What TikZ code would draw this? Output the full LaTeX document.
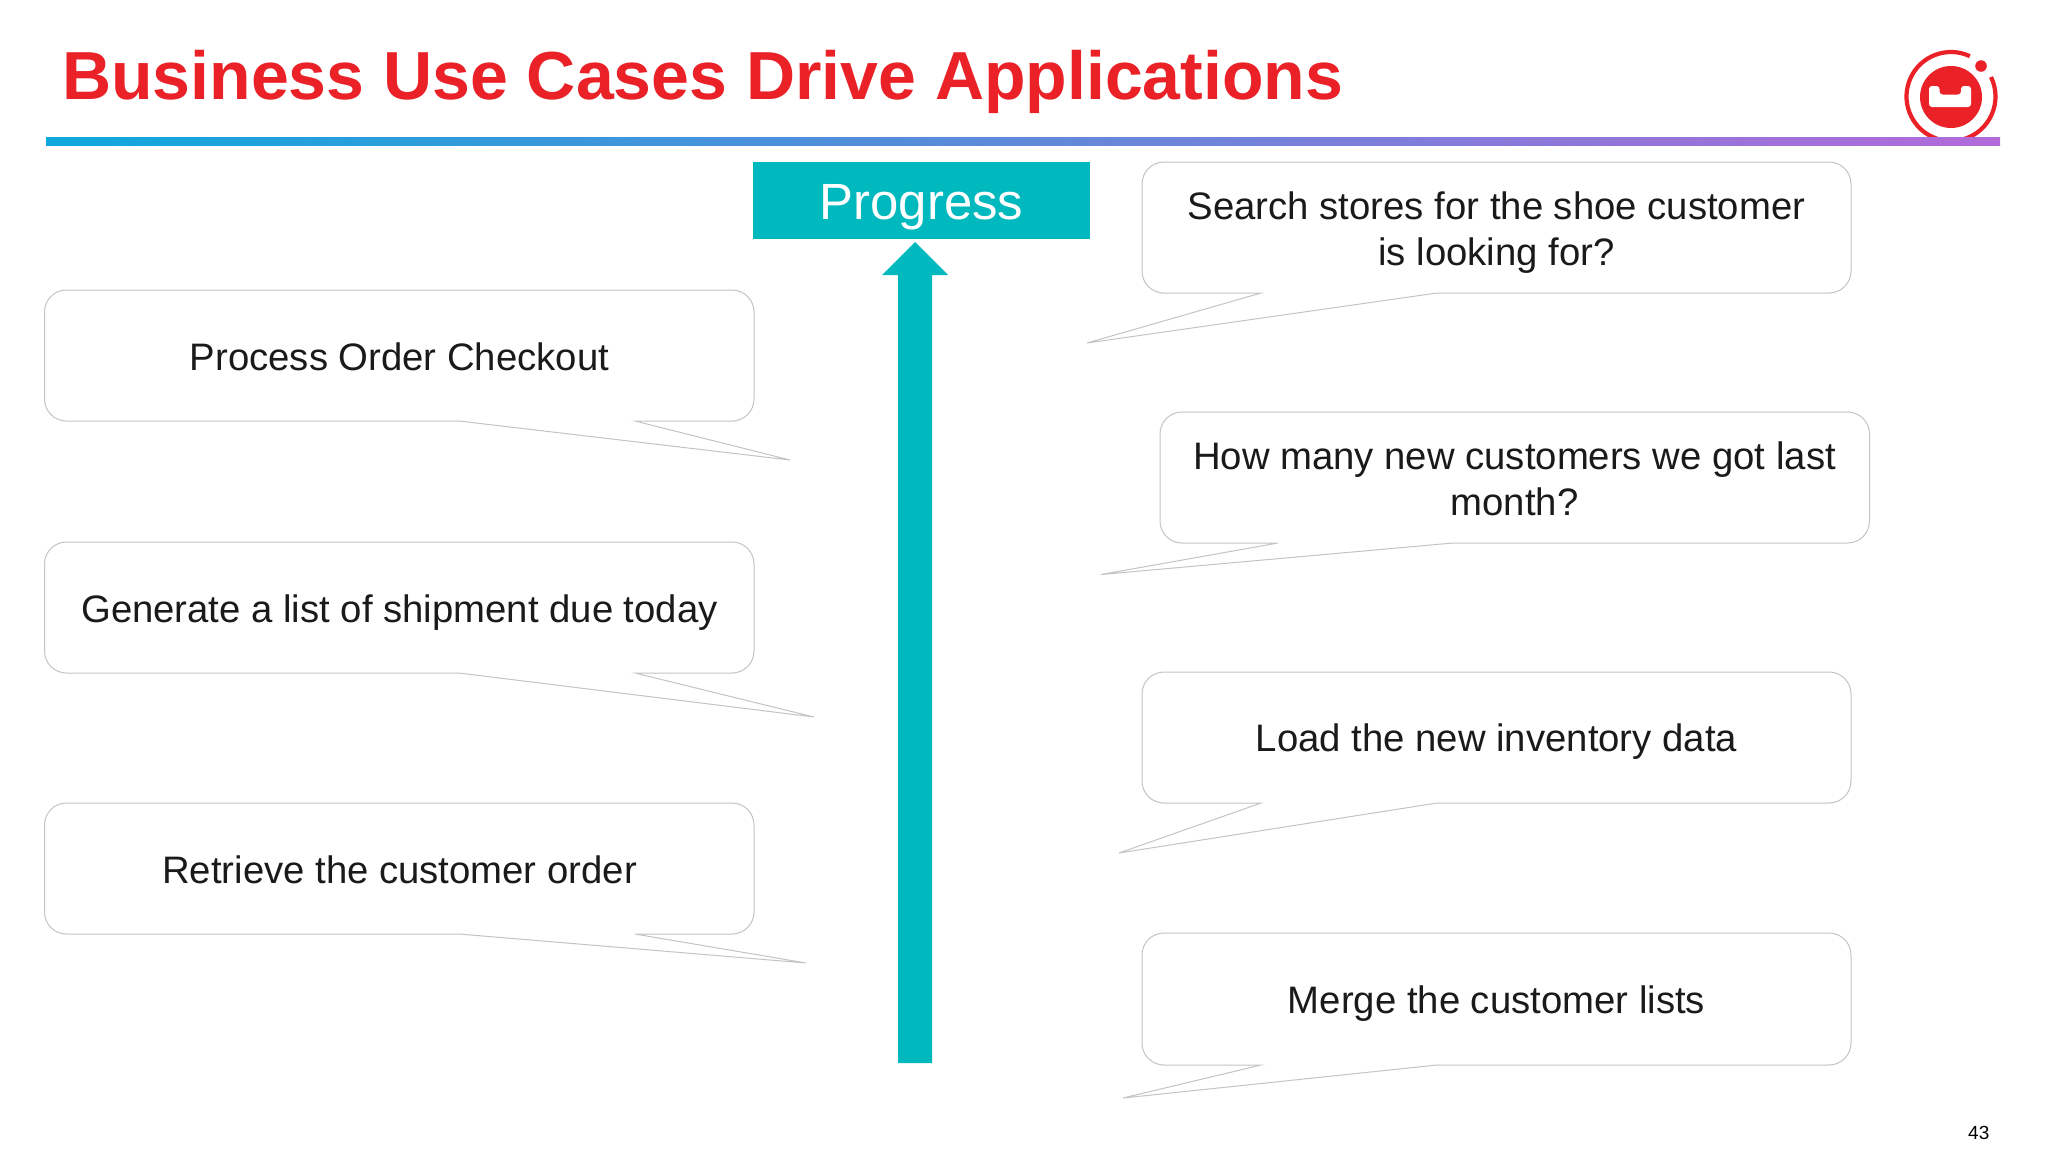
\documentclass[tikz,border=0pt]{standalone}
\usepackage{fontspec}
\setmainfont{Liberation Sans}
\definecolor{titlered}{HTML}{EA2127}
\definecolor{teal}{HTML}{00B9BF}
\definecolor{bubble}{HTML}{C4C4C6}
\definecolor{bodytext}{HTML}{1A1A1A}
\definecolor{barblue}{HTML}{0EA8DC}
\definecolor{barpurple}{HTML}{B26AD9}
\tikzset{
  bubbleline/.style={draw=bubble,line width=1pt,fill=white},
  bubbletext/.style={text=bodytext,font=\fontsize{38.3}{46}\selectfont,align=center,inner sep=0pt},
}
% name, x1, y1, x2, y2, tail base left, tail base right, tip x, tip y
\newcommand{\bubblebox}[9]{%
  \draw[bubbleline] (#6,#5) [rounded corners=22pt] -- (#2,#5) -- (#2,#3) -- (#4,#3) -- (#4,#5) [sharp corners] -- (#7,#5) -- (#8,#9) -- cycle;
}
\begin{document}
\begin{tikzpicture}[x=1pt,y=-1pt]
\useasboundingbox (0,0) rectangle (2048,1152);
\fill[white] (0,0) rectangle (2048,1152);
% logo
\fill[titlered] (1951,97) circle (31);
\begin{scope}[y=1pt,shift={(1951pt,-96.5pt)}]
  \draw[titlered,line width=4.2pt] (65:44.5) arc (65:386:44.5);
\end{scope}
\fill[titlered] (1981,66) circle (5.8);
\fill[white,rounded corners=3pt] (1929,86) -- (1939.5,86) -- (1939.5,94.5) -- (1961,94.5) -- (1961,86) -- (1971,86) -- (1971,107) -- (1929,107) -- cycle;
% title rule
\shade[left color=barblue,right color=barpurple] (46,137.3) rectangle (2000,145);
\node[anchor=base west,inner sep=0pt,text=titlered,font=\fontsize{68}{80}\selectfont\bfseries] (title) at (62,99.5) {Business Use Cases Drive Applications};
% progress
\node[fill=teal,text=white,minimum width=337pt,minimum height=77pt,inner sep=0pt,text height=37.6pt,text depth=0pt,font=\fontsize{50.9}{60}\selectfont] (progress) at (921.5,200.5) {Progress};
\fill[teal] (898,1063) -- (898,275) -- (882,275) -- (915,242) -- (948,275) -- (932,275) -- (932,1063) -- cycle;
% left bubbles
\bubblebox{a}{44.5}{290}{754}{421}{459}{635}{790}{460}
\node[bubbletext] (a) at (399.5,357) {Process Order Checkout};
\bubblebox{b}{44.5}{542}{754}{673}{459}{635}{814}{717}
\node[bubbletext] (b) at (399.5,613) {Generate a list of shipment due today};
\bubblebox{c}{44.5}{803}{754}{934}{459}{635}{806}{963}
\node[bubbletext] (c) at (399.5,870) {Retrieve the customer order};
% right bubbles
\bubblebox{d}{1142}{162}{1851}{293}{1261}{1437}{1087}{343}
\node[bubbletext] (d) at (1496.5,233) {Search stores for the shoe customer\\is looking for?};
\bubblebox{e}{1160}{412}{1869.5}{543}{1278}{1453}{1101}{574.5}
\node[bubbletext] (e) at (1514.5,479) {How many new customers we got last\\month?};
\bubblebox{f}{1142}{672}{1851}{803}{1261}{1437}{1119}{853}
\node[bubbletext] (f) at (1496.5,742) {Load the new inventory data};
\bubblebox{g}{1142}{933}{1851}{1065}{1261}{1437}{1123}{1098}
\node[bubbletext] (g) at (1496.5,1004) {Merge the customer lists};
\node[anchor=base east,inner sep=0pt,text=black,font=\fontsize{19}{21}\selectfont] (page) at (1989.5,1139) {43};
\end{tikzpicture}
\end{document}
